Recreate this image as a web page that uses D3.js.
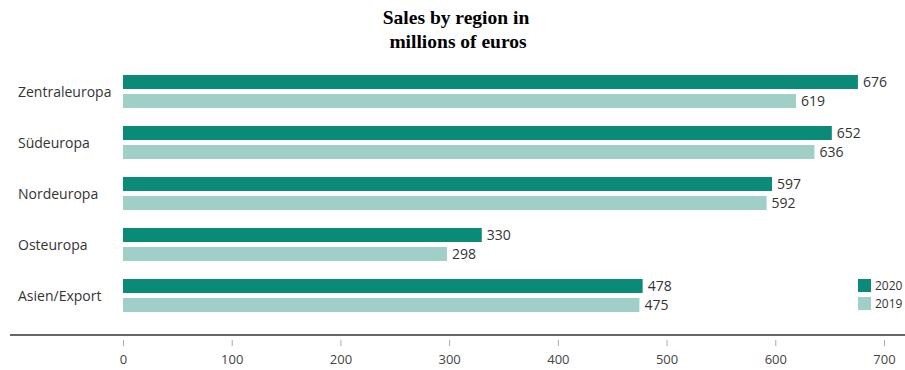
<!DOCTYPE html>
<html><head><meta charset="utf-8">
<script src="https://cdn.jsdelivr.net/npm/d3@7"></script>
<style>body{margin:0;background:#fff;}svg{display:block;}</style>
</head><body>
<svg id="chart" width="905" height="370"></svg>
<script>
const categories = ["Zentraleuropa", "Südeuropa", "Nordeuropa", "Osteuropa", "Asien/Export"];
const values2020 = [676, 652, 597, 330, 478];
const values2019 = [619, 636, 592, 298, 475];
const seriesNames = ["2020", "2019"];
const tickValues = [0, 100, 200, 300, 400, 500, 600, 700];

const colors = ["#0b8a78", "#9fcfc7"];
const svg = d3.select("#chart");

svg.append("text").attr("x", 456).attr("y", 24).attr("text-anchor", "middle")
  .attr("font-family", "Liberation Serif, serif").attr("font-weight", "bold").attr("font-size", 19.5)
  .text("Sales by region in");
svg.append("text").attr("x", 458).attr("y", 48).attr("text-anchor", "middle")
  .attr("font-family", "Liberation Serif, serif").attr("font-weight", "bold").attr("font-size", 19.5)
  .text("millions of euros");

const x = d3.scaleLinear().domain([0, 700]).range([123, 884]);
const y = d3.scaleBand().domain(categories).range([68, 323]).paddingInner(0).paddingOuter(0);
const barH = 14, gap = 5;
const font = "Open Sans, sans-serif";

categories.forEach((c, i) => {
  const cy = y(c) + y.bandwidth() / 2 - 2;
  svg.append("text").attr("x", 18).attr("y", cy + 5).attr("font-family", font).attr("font-size", 14)
    .attr("fill", "#333").text(c);
  [values2020[i], values2019[i]].forEach((v, j) => {
    const top = j === 0 ? cy - gap / 2 - barH : cy + gap / 2;
    svg.append("rect").attr("x", x(0)).attr("y", top).attr("width", x(v) - x(0)).attr("height", barH)
      .attr("fill", colors[j]);
    svg.append("text").attr("x", x(v) + 5).attr("y", top + barH / 2 + 5).attr("font-family", font)
      .attr("font-size", 14).attr("fill", "#333").text(v);
  });
});

// axis
const axisY = 335;
svg.append("line").attr("x1", 10).attr("x2", 905).attr("y1", axisY).attr("y2", axisY)
  .attr("stroke", "#333").attr("stroke-width", 1.5);
const axis = d3.axisBottom(x).tickValues(tickValues).tickSize(6).tickPadding(9);
const ag = svg.append("g").attr("transform", `translate(0,${axisY + 5})`).call(axis);
ag.select(".domain").remove();
ag.selectAll(".tick line").attr("stroke", "#aaa");
ag.selectAll(".tick text").attr("font-family", font).attr("font-size", 13).attr("fill", "#444");

// legend
seriesNames.forEach((s, j) => {
  const ly = 279 + j * 18;
  svg.append("rect").attr("x", 858).attr("y", ly).attr("width", 13).attr("height", 13).attr("fill", colors[j]);
  svg.append("text").attr("x", 875).attr("y", ly + 11).attr("font-family", font).attr("font-size", 12)
    .attr("fill", "#333").text(s);
});
</script>
</body></html>
